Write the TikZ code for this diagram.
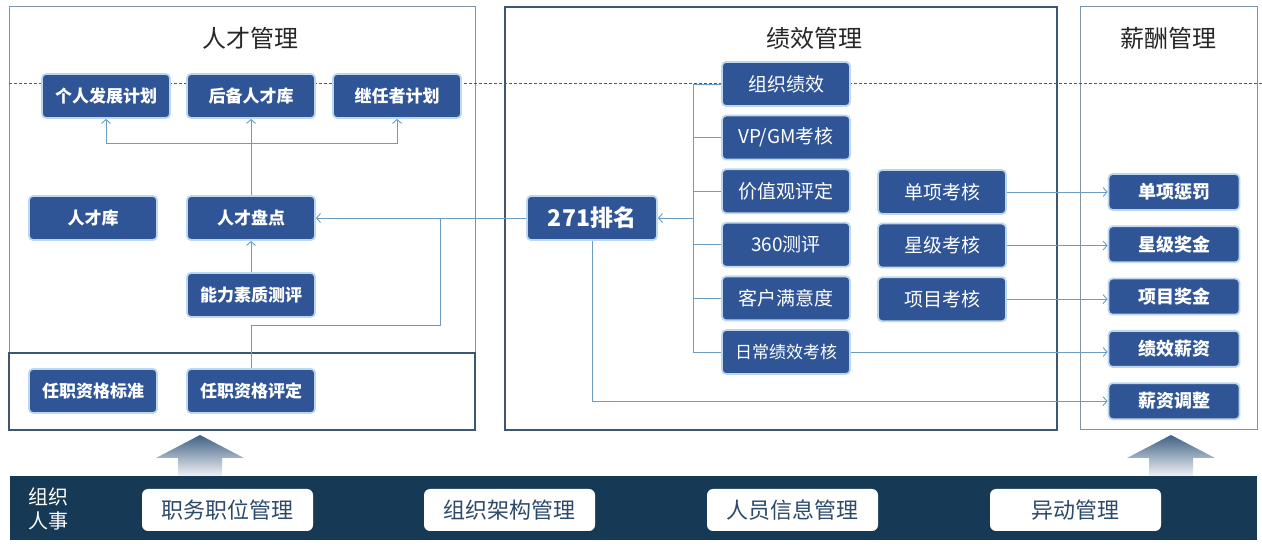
\documentclass[tikz,border=0pt]{standalone}
\usepackage{fontspec}
\setmainfont{Noto Sans CJK SC}
\usetikzlibrary{arrows.meta, positioning}
\definecolor{boxblue}{HTML}{2F5597}
\definecolor{glowblue}{HTML}{BDD7EE}
\definecolor{linkblue}{HTML}{6A9CC4}
\definecolor{frameblue}{HTML}{7F93A8}
\definecolor{framedark}{HTML}{3E5670}
\definecolor{bandnavy}{HTML}{163A56}
\definecolor{basetext}{HTML}{2D4A6B}
\definecolor{arrowgrey}{HTML}{3F6185}
\tikzset{%
	every box/.style={
		rectangle,
		rounded corners=4pt,
		draw=glowblue,
		line width=1.8pt,
		fill=boxblue,
		text=white,
		minimum width=128pt,
		minimum height=44pt,
		inner sep=0pt
	},
	talent box/.style={every box, font=\fontsize{17}{17}\selectfont\bfseries},
	perf box/.style={every box, font=\fontsize{19}{19}\selectfont},
	pay box/.style={every box, minimum width=131pt, minimum height=36pt, font=\fontsize{18}{18}\selectfont\bfseries},
	base box/.style={
		rectangle,
		rounded corners=6pt,
		fill=white,
		minimum width=171pt,
		minimum height=42pt,
		text=basetext,
		font=\fontsize{22}{22}\selectfont
	},
	panel title/.style={text=black!85, font=\fontsize{24}{24}\selectfont},
	link/.style={draw=linkblue, line width=0.9pt},
	link arrow/.style={link, -{Straight Barb[length=4pt, width=9pt]}},
}
\begin{document}
\begin{tikzpicture}[x=1pt, y=1pt, node distance=7.8pt]
	\useasboundingbox (0,0) rectangle (1262,552);
	% panels
	\draw[frameblue, line width=1pt] (9,122) rectangle (475,545);
	\draw[framedark, line width=1.4pt] (9,122) rectangle (475,199);
	\draw[framedark, line width=1.4pt] (505,122) rectangle (1057,545);
	\draw[frameblue, line width=1pt] (1080,122) rectangle (1257,545);
	\draw[black!65, line width=0.8pt, dash pattern=on 3pt off 2pt] (9,469) -- (1262,469);
	
	\node[panel title] (talent title) at (250,514) {人才管理};
	\node[panel title] (perf title) at (814,514) {绩效管理};
	\node[panel title] (pay title) at (1168,514) {薪酬管理};
	
	% talent
	\node[talent box] (idp) at (106,456) {个人发展计划};
	\node[talent box] (reserve) at (251,456) {后备人才库};
	\node[talent box] (succession) at (397,456) {继任者计划};
	\node[talent box] (pool) at (93,334) {人才库};
	\node[talent box] (review) at (251,334) {人才盘点};
	\node[talent box] (competency) at (251,257) {能力素质测评};
	\node[talent box] (standard) at (93,161) {任职资格标准};
	\node[talent box] (qualify) at (251,161) {任职资格评定};
	
	% performance
	\node[every box, minimum width=130pt, font=\fontsize{23}{23}\selectfont\bfseries] (rank) at (592,334) {271排名};
	\node[perf box] (org) at (786,468) {组织绩效};
	\node[perf box, below=of org] (vpgm) {VP/GM考核};
	\node[perf box, below=of vpgm] (values) {价值观评定};
	\node[perf box, below=of values] (r360) {360测评};
	\node[perf box, below=of r360] (custom) {客户满意度};
	\node[perf box, below=of custom, font=\fontsize{17}{17}\selectfont] (daily) {日常绩效考核};
	\node[perf box] (single) at (942,360) {单项考核};
	\node[perf box, below=of single] (star) {星级考核};
	\node[perf box, below=of star] (project) {项目考核};
	
	% pay
	\node[pay box] (penalty) at (1174,360) {单项惩罚};
	\node[pay box, below=14.5pt of penalty] (starbonus) {星级奖金};
	\node[pay box, below=14.5pt of starbonus] (projbonus) {项目奖金};
	\node[pay box, below=14.5pt of projbonus] (perfpay) {绩效薪资};
	\node[pay box, below=14.5pt of perfpay] (adjust) {薪资调整};
	
	% links
	\coordinate (fork) at (251,409);
	\draw[link arrow] (review.north) -- (reserve.south);
	\draw[link arrow] (fork) -| (idp.south);
	\draw[link arrow] (fork) -| (succession.south);
	\draw[link arrow] (competency.north) -- (review.south);
	\draw[link arrow] (rank.west) -- (review.east);
	\coordinate (merge) at (440,227);
	\draw[link] (qualify.north) |- (merge) -- (merge |- review.east);
	\draw[link arrow] (rank.south) |- (adjust.west);
	
	\coordinate (bracket) at (693,334);
	\draw[link] (org.west) -| (bracket |- daily.west) -- (daily.west);
	\foreach \n in {vpgm, values, r360, custom}
		\draw[link] (\n.west) -- (\n.west -| bracket);
	\draw[link arrow] (bracket) -- (rank.east);
	
	\draw[link arrow] (single.east) -- (single.east -| penalty.west);
	\draw[link arrow] (star.east) -- (star.east -| starbonus.west);
	\draw[link arrow] (project.east) -- (project.east -| projbonus.west);
	\draw[link arrow] (daily.east) -- (daily.east -| perfpay.west);
	
	% base band
	\shade[top color=arrowgrey, bottom color=white!92!arrowgrey] (178,76) -- (178,94) -- (156,94) -- (200,117) -- (244,94) -- (222,94) -- (222,76) -- cycle;
	\shade[top color=arrowgrey, bottom color=white!92!arrowgrey] (1149,76) -- (1149,94) -- (1127,94) -- (1171,117) -- (1215,94) -- (1193,94) -- (1193,76) -- cycle;
	\fill[bandnavy] (10,12) rectangle (1257,76);
	\node[text=white, font=\fontsize{20}{24}\selectfont, align=left] (orghr) at (48,43) {组织\\人事};
	\node[base box] (duty) at (227.5,42) {职务职位管理};
	\node[base box] (structure) at (509.5,42) {组织架构管理};
	\node[base box] (staff) at (792.5,42) {人员信息管理};
	\node[base box] (transfer) at (1075.5,42) {异动管理};
\end{tikzpicture}
\end{document}
